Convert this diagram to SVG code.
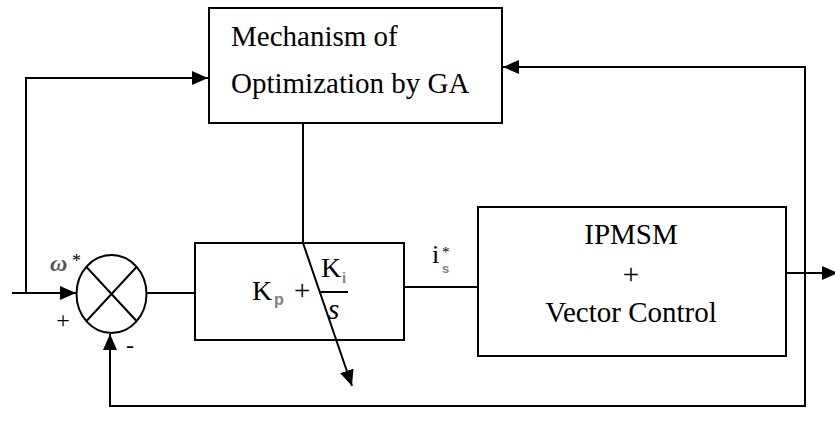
<svg xmlns="http://www.w3.org/2000/svg" width="835" height="437" viewBox="0 0 835 437">
<style>
.box{fill:#fff;stroke:#000;stroke-width:2}
.ln{fill:none;stroke:#000;stroke-width:2}
.t{font-family:'Liberation Serif','Times New Roman',Tinos,'DejaVu Serif',serif;font-size:29px;fill:#000}
.k{font-size:28px}
.sub{font-family:'Liberation Sans',Arial,sans-serif;font-weight:bold;fill:#808080}
</style>
<defs>
<marker id="ah" markerUnits="userSpaceOnUse" markerWidth="18" markerHeight="16" refX="16" refY="7" orient="auto">
<path d="M0,0 L16,7 L0,14 z" fill="#000"/>
</marker>
</defs>
<rect width="835" height="437" fill="#fff"/>
<g id="ga">
<rect class="box" x="209" y="8" width="293" height="115"/>
<text class="t" x="231" y="46">Mechanism of</text>
<text class="t" x="231" y="93">Optimization by GA</text>
</g>
<g id="sum">
<ellipse class="box" cx="111.5" cy="294" rx="35" ry="39"/>
<path class="ln" d="M86.5,267 L136.5,321 M136.5,267 L86.5,321"/>
<text x="50" y="271" font-family="Liberation Serif, DejaVu Serif, serif" font-style="italic" font-weight="bold" font-size="24" fill="#555">ω</text>
<text class="t" x="72" y="267" style="font-size:18px">*</text>
<text class="t" x="63" y="328" text-anchor="middle" style="font-size:24px">+</text>
<text class="t" x="130" y="353" text-anchor="middle" style="font-size:24px">-</text>
</g>
<g id="pi">
<rect class="box" x="195" y="243" width="209" height="97"/>
<text class="t k" x="252" y="300">K</text>
<text class="sub" x="274" y="305" style="font-size:16px">p</text>
<text class="t" x="294" y="300">+</text>
<text class="t k" x="321" y="277">K</text>
<text class="sub" x="342" y="283" style="font-size:15px">i</text>
<path class="ln" d="M320,292 L348,292"/>
<text class="t" x="328" y="319" style="font-style:italic">s</text>
</g>
<g id="is-label">
<text class="t" x="432" y="263" style="font-size:26px">i</text>
<text class="t" x="442" y="257" style="font-size:15px">*</text>
<text class="sub" x="442" y="273" style="font-size:13px">s</text>
</g>
<g id="ipmsm">
<rect class="box" x="478" y="207" width="308" height="149"/>
<text class="t" x="631" y="244" text-anchor="middle">IPMSM</text>
<text class="t" x="631" y="284" text-anchor="middle">+</text>
<text class="t" x="631" y="322" text-anchor="middle">Vector Control</text>
</g>
<g id="connectors">
<path class="ln" d="M12,293 L76,293" marker-end="url(#ah)"/>
<path class="ln" d="M26,293 L26,78 L208,78" marker-end="url(#ah)"/>
<path class="ln" d="M147,293 L195,293"/>
<path class="ln" d="M303,123 L303,243"/>
<path class="ln" d="M303,243 L352,386" marker-end="url(#ah)"/>
<path class="ln" d="M404,287 L478,287"/>
<path class="ln" d="M786,273 L838,273" marker-end="url(#ah)"/>
<path class="ln" d="M805,273 L805,406 L110,406 L110,334" marker-end="url(#ah)"/>
<path class="ln" d="M805,273 L805,67 L503,67" marker-end="url(#ah)"/>
</g>
</svg>
